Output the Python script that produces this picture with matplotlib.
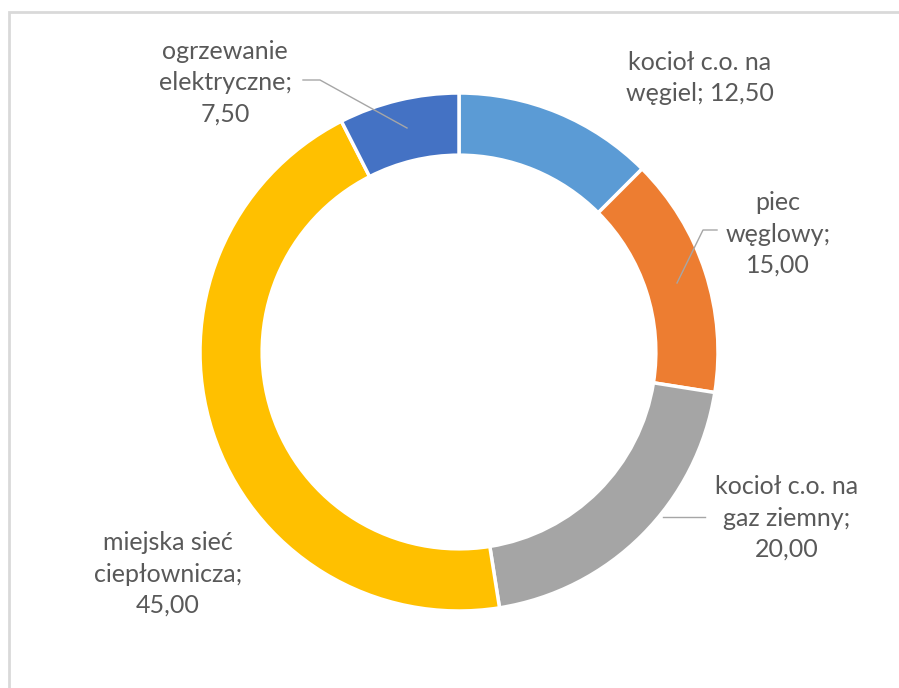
import matplotlib.pyplot as plt
import matplotlib.patches as mpatches

# share of heating sources
labels = ["kocioł c.o. na\nwęgiel; 12,50",
          "piec\nwęglowy;\n15,00",
          "kocioł c.o. na\ngaz ziemny;\n20,00",
          "miejska sieć\nciepłownicza;\n45,00",
          "ogrzewanie\nelektryczne;\n7,50"]
values = [12.5, 15.0, 20.0, 45.0, 7.5]
colors = ["#5B9BD5", "#ED7D31", "#A5A5A5", "#FFC000", "#4472C4"]

W, H = 899, 688
TEXT_COLOR = "#595959"

fig = plt.figure(figsize=(W / 100, H / 100), dpi=100)
ax = fig.add_axes([0, 0, 1, 1])

# chart area border (cut off on the right and bottom)
ax.add_patch(mpatches.Rectangle((9, -10), W + 40, H - 12 + 10, fill=False,
                                edgecolor="#D9D9D9", linewidth=2))

cx, cy, r = 459, H - 352, 259
wedges, _ = ax.pie(values, colors=colors, startangle=90, counterclock=False,
                   center=(cx, cy), radius=r, frame=True,
                   wedgeprops=dict(width=r * 0.24, edgecolor="white", linewidth=2.5))
ax.set_xlim(0, W)
ax.set_ylim(0, H)
ax.set_aspect("equal")
ax.axis("off")

# label positions (pixel coords from top)
label_pos = [(700, 78), (778, 234), (787, 518), (168, 574), (225, 83)]
for txt, (x, y) in zip(labels, label_pos):
    ax.text(x, H - y, txt, ha="center", va="center", fontsize=18,
            family="Lato", color=TEXT_COLOR, linespacing=1.45)

# leader lines
leaders = [
    [(303, 80), (320, 80), (407, 128)],
    [(717, 230), (703, 230), (677, 283)],
    [(705, 517), (663, 517)],
]
for pts in leaders:
    xs = [p[0] for p in pts]
    ys = [H - p[1] for p in pts]
    ax.plot(xs, ys, color="#A6A6A6", linewidth=1)

fig.savefig("out.png", dpi=100, facecolor="white")
